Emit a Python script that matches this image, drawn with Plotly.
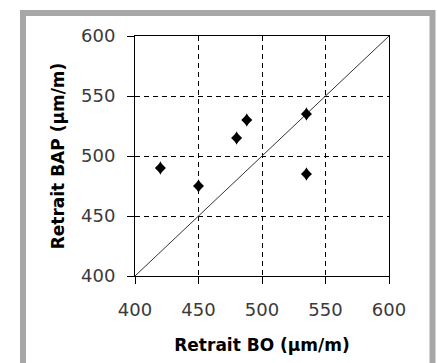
import plotly.graph_objects as go

# Data
retrait_bo = [420, 450, 480, 488, 535, 535]
retrait_bap = [490, 475, 515, 530, 535, 485]
diag = [400, 600]
tick_vals = [400, 450, 500, 550, 600]
x_title = "Retrait BO (µm/m)"
y_title = "Retrait BAP (µm/m)"

W, H = 437, 363
L, R, T, B = 135, 48, 36, 87
PW, PH = W - L - R, H - T - B

def px_x(p):
    return (p - L) / PW

def px_y(p):
    return 1 - (p - T) / PH

fig = go.Figure()
fig.add_trace(go.Scatter(x=diag, y=diag, mode="lines",
                         line=dict(color="#333333", width=1), hoverinfo="skip"))
fig.add_trace(go.Scatter(x=retrait_bo, y=retrait_bap, mode="markers",
                         marker=dict(symbol="diamond", size=8.5, color="black")))
fig.add_trace(go.Scatter(x=retrait_bo, y=retrait_bap, mode="markers",
                         marker=dict(symbol="diamond-tall", size=9.5, color="black")))

axis_common = dict(
    range=[400, 600], tickvals=tick_vals, ticks="outside", ticklen=7,
    tickcolor="black", tickwidth=1, showline=True, linecolor="black",
    linewidth=1, mirror=True, showgrid=True, gridcolor="black",
    gridwidth=1, griddash="5px,4px", zeroline=False,
    tickfont=dict(family="DejaVu Sans", size=18, color="#3a3a3a"),
)

fig.update_xaxes(**axis_common,
                 title=dict(text=x_title, standoff=20,
                            font=dict(family="DejaVu Sans", size=17, color="black")),
                 ticklabelstandoff=10)
fig.update_yaxes(**axis_common,
                 title=dict(text=y_title, standoff=12,
                            font=dict(family="DejaVu Sans", size=17, color="black")),
                 ticklabelstandoff=8)

fig.update_layout(
    width=W, height=H, margin=dict(l=L, r=R, t=T, b=B, pad=0),
    paper_bgcolor="white", plot_bgcolor="white", showlegend=False,
    shapes=[dict(type="rect", xref="paper", yref="paper",
                 x0=px_x(23), x1=px_x(432.5), y0=px_y(375), y1=px_y(13),
                 line=dict(color="#a7a7a9", width=6), layer="below")],
)
fig.update_layout(xaxis_title_font_weight="bold", yaxis_title_font_weight="bold")

fig.write_html("out.html")
